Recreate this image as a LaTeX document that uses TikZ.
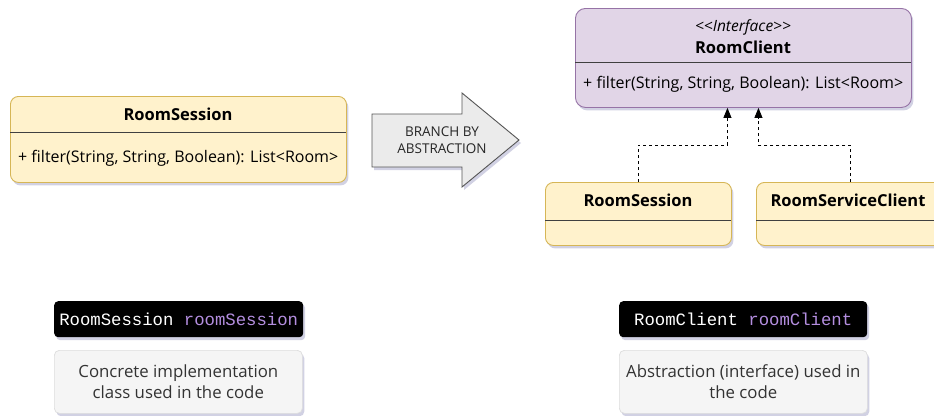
\documentclass[tikz,border=0pt]{standalone}
\usepackage{fontspec}
\setmainfont{Open Sans}
\newfontfamily\codefont{Liberation Mono}
\usetikzlibrary{shadows,arrows.meta,calc}
\definecolor{ylwfill}{HTML}{FFF2CC}
\definecolor{ylwline}{HTML}{D6B656}
\definecolor{purfill}{HTML}{E1D5E7}
\definecolor{purline}{HTML}{9673A6}
\definecolor{arrfill}{HTML}{EBEBEB}
\definecolor{arrline}{HTML}{555555}
\definecolor{notefill}{HTML}{F5F5F5}
\definecolor{noteline}{HTML}{DDDDDD}
\definecolor{notetext}{HTML}{333333}
\definecolor{codepur}{HTML}{B48EE0}
\tikzset{
  shade/.style={drop shadow={shadow xshift=2pt,shadow yshift=-3pt,fill=black!60!blue,opacity=0.18}},
  classbox/.style={draw=ylwline,fill=ylwfill,rounded corners=8pt,line width=0.9pt,anchor=north west,inner sep=0pt,shade},
  ifacebox/.style={draw=purline,fill=purfill,rounded corners=10pt,line width=0.9pt,anchor=north west,inner sep=0pt,shade},
  codebox/.style={fill=black,rounded corners=4pt,anchor=north west,inner sep=0pt,shade},
  notebox/.style={draw=noteline,fill=notefill,rounded corners=5pt,line width=0.7pt,anchor=north west,inner sep=0pt,shade},
  title/.style={font=\fontsize{16.5}{19}\selectfont\bfseries,inner sep=0pt},
  member/.style={font=\fontsize{16}{19}\selectfont,inner sep=0pt,anchor=west},
  divider/.style={draw=black!75,line width=0.9pt},
  dep/.style={draw=black,dash pattern=on 3pt off 3pt,line width=0.8pt,-{Triangle[width=8pt,length=10pt]}},
  code/.style={font=\codefont\fontsize{17.3}{20}\selectfont,text=white,inner sep=0pt},
  note/.style={font=\fontsize{16.8}{21}\selectfont,text=notetext,align=center,inner sep=0pt},
}
\begin{document}
\begin{tikzpicture}[x=1pt,y=-1pt]
\clip (0,0) rectangle (934,415);
\fill[white] (0,0) rectangle (934,415);
% left class
\node[classbox,minimum width=336pt,minimum height=86pt] (rs) at (10,96) {};
\draw[divider] (10,132) -- (346,132);
\node[title] (rst) at (178,114) {RoomSession};
\node[member] (rsm) at (18,158) {+ filter(String, String, Boolean): List<Room>};
% block arrow
\draw[fill=arrfill,draw=arrline,line width=0.9pt,shade,line join=miter]
  (372,114) -- (462,114) -- (462,93) -- (519,140) -- (462,187) -- (462,167) -- (372,167) -- cycle;
\node[font=\fontsize{13.5}{17}\selectfont,align=center,text=black!85,inner sep=0pt] (bba) at (442,140) {BRANCH BY\\ABSTRACTION};
% interface
\node[ifacebox,minimum width=336pt,minimum height=99pt] (rc) at (575,8) {};
\draw[divider] (575,62) -- (911,62);
\node[font=\fontsize{15.5}{18}\selectfont\itshape,inner sep=0pt] (ster) at (743,27) {<{}<Interface>{}>};
\node[title] (rct) at (743,47) {RoomClient};
\node[member] (rcm) at (583,84) {+ filter(String, String, Boolean): List<Room>};
% implementations
\node[classbox,minimum width=186pt,minimum height=63pt] (rs2) at (545,182) {};
\draw[divider] (545,220) -- (731,220);
\node[title] (rs2t) at (638,200) {RoomSession};
\node[classbox,minimum width=190pt,minimum height=63pt] (rsc) at (756,182) {};
\draw[divider] (756,220) -- (946,220);
\node[title] (rsct) at (848,200) {RoomServiceClient};
% dependencies
\draw[dep] (rs2.north) -- ++(0,-37) -| ([xshift=-16pt]rc.south);
\draw[dep] ([xshift=-1pt]rsc.north) -- ++(0,-37) -| ([xshift=15pt]rc.south);
% code labels
\node[codebox,minimum width=249pt,minimum height=36pt] (cb1) at (54,301) {};
\node[code] (cb1t) at (cb1.center) {RoomSession \textcolor{codepur}{roomSession}};
\node[notebox,minimum width=248pt,minimum height=63pt] (nb1) at (54,350) {};
\node[note] (nb1t) at (nb1.center) {Concrete implementation\\class used in the code};
\node[codebox,minimum width=248pt,minimum height=36pt] (cb2) at (619,301) {};
\node[code] (cb2t) at (cb2.center) {RoomClient \textcolor{codepur}{roomClient}};
\node[notebox,minimum width=248pt,minimum height=63pt] (nb2) at (619,350) {};
\node[note] (nb2t) at (nb2.center) {Abstraction (interface) used in\\the code};
\end{tikzpicture}
\end{document}
